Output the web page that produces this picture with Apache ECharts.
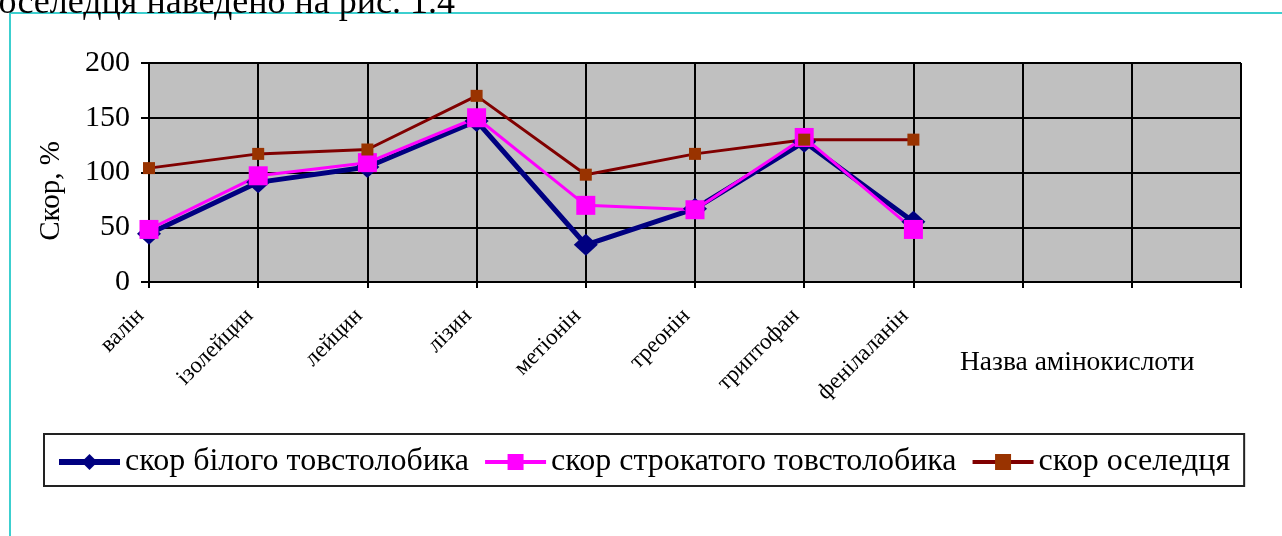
<!DOCTYPE html>
<html>
<head>
<meta charset="utf-8">
<script src="https://cdn.jsdelivr.net/npm/echarts@6/dist/echarts.min.js"></script>
<style>
  html, body { margin: 0; padding: 0; background: #fff; }
  #chart { width: 1282px; height: 536px; }
</style>
</head>
<body>
<div id="chart"></div>
<script>
// назви амінокислот (останні три позиції на осі порожні)
var categories = ['валін', 'ізолейцин', 'лейцин', 'лізин', 'метіонін', 'треонін', 'триптофан', 'фенілаланін', '', '', ''];
// скор, %
var whiteCarp = [44, 91, 105, 147, 34, 67, 128, 55];
var bigheadCarp = [48, 97, 109, 150, 70, 66, 132, 48];
var herring = [104, 117, 121, 170, 98, 117, 130, 130];
var yTicks = [0, 50, 100, 150, 200];

var serif = "'Liberation Serif', 'Times New Roman', serif";

var myChart = echarts.init(document.getElementById('chart'));
myChart.setOption({
  animation: false,
  backgroundColor: '#fff',
  textStyle: { fontFamily: serif },
  grid: {
    left: 149,
    right: 41,
    top: 63,
    bottom: 254,
    show: true,
    backgroundColor: '#c0c0c0',
    borderColor: '#808080',
    borderWidth: 1
  },
  legend: {
    left: 44,
    top: 434,
    padding: [12, 14, 8, 12],
    itemGap: 14,
    itemWidth: 61,
    itemHeight: 20,
    borderColor: '#222',
    borderWidth: 2,
    textStyle: { fontFamily: serif, fontSize: 32, color: '#000' },
    data: [
      { name: 'скор білого товстолобика', lineStyle: { width: 6 } },
      { name: 'скор строкатого товстолобика', lineStyle: { width: 4 } },
      { name: 'скор оселедця', lineStyle: { width: 4 } }
    ]
  },
  xAxis: {
    type: 'category',
    data: categories,
    boundaryGap: false,
    axisLine: { lineStyle: { color: '#000', width: 2 } },
    axisTick: { show: true, length: 6, lineStyle: { color: '#000', width: 2 } },
    splitLine: { show: true, lineStyle: { color: '#000', width: 2 } },
    axisLabel: {
      interval: 0,
      rotate: 45,
      margin: 22,
      padding: [0, 12, 0, 0],
      fontFamily: serif,
      fontSize: 23,
      color: '#000'
    }
  },
  yAxis: {
    type: 'value',
    min: yTicks[0],
    max: yTicks[yTicks.length - 1],
    interval: 50,
    axisLine: { show: true, lineStyle: { color: '#000', width: 2 } },
    axisTick: { show: true, length: 8, lineStyle: { color: '#000', width: 2 } },
    splitLine: { show: true, lineStyle: { color: '#000', width: 2 } },
    axisLabel: { margin: 19, fontFamily: serif, fontSize: 30, color: '#000' }
  },
  graphic: [
    // бірюзова рамка сторінки
    { type: 'line', shape: { x1: 10, y1: 13, x2: 1282, y2: 13 }, style: { stroke: '#3ccfcf', lineWidth: 2 } },
    { type: 'line', shape: { x1: 10, y1: 13, x2: 10, y2: 536 }, style: { stroke: '#3ccfcf', lineWidth: 2 } },
    // обрізаний рядок тексту над діаграмою
    {
      type: 'text', x: 455, y: 22,
      style: { text: 'оселедця наведено на рис. 1.4', font: '36px ' + serif, fill: '#000', textAlign: 'right', textVerticalAlign: 'bottom' }
    },
    {
      type: 'text', x: 51, y: 191, rotation: Math.PI / 2,
      style: { text: 'Скор, %', font: '29px ' + serif, fill: '#000', textAlign: 'center', textVerticalAlign: 'middle' }
    },
    {
      type: 'text', x: 960, y: 363,
      style: { text: 'Назва амінокислоти', font: '27.5px ' + serif, fill: '#000', textAlign: 'left', textVerticalAlign: 'middle' }
    }
  ],
  series: [
    {
      name: 'скор білого товстолобика',
      type: 'line',
      data: whiteCarp,
      symbol: 'diamond',
      symbolSize: [24, 22],
      lineStyle: { color: '#000080', width: 5 },
      itemStyle: { color: '#000080' }
    },
    {
      name: 'скор строкатого товстолобика',
      type: 'line',
      data: bigheadCarp,
      symbol: 'rect',
      symbolSize: 19,
      lineStyle: { color: '#ff00ff', width: 3 },
      itemStyle: { color: '#ff00ff' }
    },
    {
      name: 'скор оселедця',
      type: 'line',
      data: herring,
      symbol: 'rect',
      symbolSize: 12,
      lineStyle: { color: '#800000', width: 3 },
      itemStyle: { color: '#993300' }
    }
  ]
});
window.addEventListener('resize', function() {
  myChart.resize();
});
</script>
</body>
</html>
